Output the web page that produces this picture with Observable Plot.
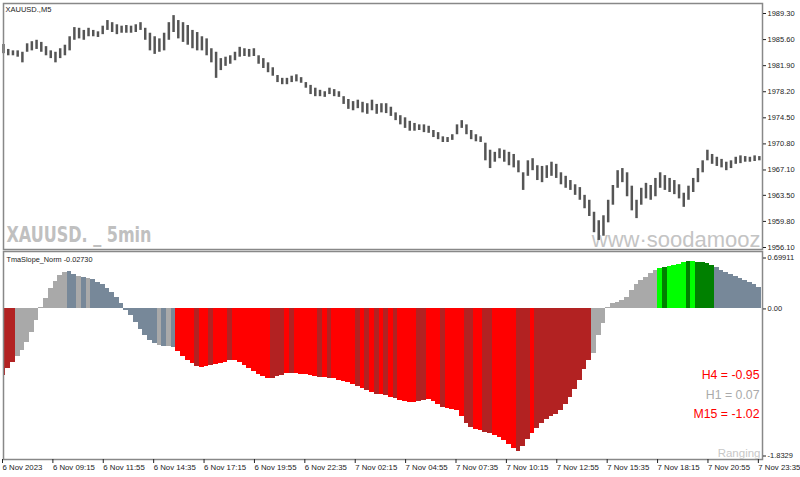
<!DOCTYPE html>
<html><head><meta charset="utf-8">
<script src="https://cdn.jsdelivr.net/npm/d3@7"></script>
<script src="https://cdn.jsdelivr.net/npm/@observablehq/plot@0.6"></script>
<style>
html,body{margin:0;padding:0;background:#fff;}
#chart{position:relative;width:800px;height:477px;overflow:hidden;background:#fff;}
#chart svg{position:absolute;left:0;display:block;overflow:visible;}
</style></head><body><div id="chart"></div>
<script>
// ---- data: XAUUSD M5, one sample per 3 bars ----
const priceHigh = [
1984.9,1984.2,1984.0,1984.0,1983.8,1985.0,1985.3,1985.5,1985.2,1984.6,
1984.0,1983.8,1984.3,1984.8,1986.0,1987.3,1987.2,1986.9,1987.2,1986.9,
1986.7,1987.5,1988.3,1988.0,1987.7,1987.5,1987.6,1987.5,1987.7,1988.0,
1987.2,1986.5,1986.0,1985.7,1986.5,1988.0,1989.0,1988.3,1988.0,1987.6,
1986.9,1986.6,1986.0,1985.7,1984.3,1983.8,1982.9,1983.1,1983.3,1983.8,
1984.5,1984.3,1984.2,1984.3,1983.3,1982.9,1982.3,1981.6,1980.5,1980.1,
1980.1,1980.4,1980.6,1980.2,1979.5,1979.1,1978.7,1978.4,1978.2,1978.7,
1978.5,1978.2,1977.5,1977.1,1976.8,1977.0,1976.7,1976.5,1977.0,1976.4,
1976.5,1976.5,1976.0,1975.2,1974.8,1974.5,1974.0,1973.7,1973.5,1973.5,
1973.3,1972.7,1972.4,1971.8,1971.7,1972.1,1973.5,1974.1,1973.5,1972.7,
1972.1,1971.8,1970.9,1969.9,1969.6,1970.1,1969.9,1969.6,1969.3,1968.4,
1966.7,1968.4,1968.7,1967.7,1967.6,1967.7,1968.2,1967.9,1966.7,1966.2,
1965.6,1965.0,1964.6,1963.5,1962.8,1961.1,1959.9,1960.6,1962.8,1964.9,
1967.0,1967.3,1966.7,1964.8,1962.8,1964.5,1965.2,1964.9,1965.9,1966.7,
1966.3,1965.9,1965.6,1965.0,1963.8,1964.8,1965.9,1967.3,1968.4,1969.9,
1969.3,1968.9,1968.6,1968.2,1968.4,1968.9,1969.1,1969.0,1968.9,1969.1,1969.0];
const priceLow = [
1983.6,1983.3,1983.3,1983.1,1982.3,1983.8,1984.0,1984.2,1983.8,1983.3,
1982.9,1982.3,1982.9,1983.3,1984.0,1985.5,1985.7,1985.5,1986.0,1986.0,
1985.9,1986.3,1986.9,1986.6,1986.3,1986.5,1986.5,1986.5,1986.6,1986.9,
1985.5,1984.0,1983.5,1983.8,1984.0,1985.5,1986.6,1985.7,1985.2,1984.8,
1984.3,1984.0,1984.0,1983.3,1982.3,1980.1,1981.2,1981.8,1982.1,1982.6,
1983.1,1983.2,1983.1,1983.2,1982.1,1981.5,1980.9,1980.4,1979.5,1979.2,
1979.2,1979.5,1979.6,1979.4,1978.7,1977.8,1977.5,1977.5,1977.4,1977.8,
1977.5,1977.4,1976.4,1975.7,1975.5,1975.8,1975.2,1975.0,1975.5,1975.0,
1975.2,1975.1,1974.7,1974.1,1973.5,1973.0,1972.6,1972.6,1972.7,1972.4,
1972.3,1971.7,1971.4,1971.0,1971.0,1971.3,1972.1,1973.0,1972.1,1971.4,
1971.1,1971.0,1968.4,1967.3,1968.2,1968.7,1968.2,1967.7,1967.4,1966.7,
1964.2,1966.2,1967.0,1965.6,1965.3,1965.9,1966.2,1965.9,1965.0,1964.5,
1964.2,1963.5,1962.8,1961.6,1960.5,1958.2,1957.1,1957.7,1959.6,1962.1,
1964.5,1965.3,1963.3,1961.3,1960.2,1962.1,1963.0,1962.8,1963.3,1964.5,
1964.2,1963.9,1963.6,1963.0,1961.8,1962.8,1963.9,1965.3,1966.7,1968.4,
1967.9,1967.6,1967.4,1967.0,1967.3,1967.9,1968.0,1968.2,1968.2,1968.3,1968.4];
const slope = [
-0.81,-0.73,-0.65,-0.58,-0.51,-0.41,-0.29,-0.14,0.02,0.13,
0.25,0.33,0.41,0.44,0.46,0.42,0.39,0.38,0.37,0.36,
0.32,0.30,0.25,0.20,0.14,0.07,-0.02,-0.08,-0.17,-0.25,
-0.32,-0.38,-0.42,-0.45,-0.46,-0.46,-0.47,-0.52,-0.58,-0.63,
-0.66,-0.70,-0.71,-0.70,-0.69,-0.68,-0.66,-0.65,-0.63,-0.63,
-0.65,-0.69,-0.73,-0.76,-0.80,-0.82,-0.85,-0.85,-0.82,-0.81,
-0.79,-0.79,-0.79,-0.80,-0.80,-0.81,-0.82,-0.84,-0.84,-0.85,
-0.85,-0.87,-0.88,-0.90,-0.92,-0.94,-0.97,-0.99,-1.02,-1.04,
-1.04,-1.05,-1.08,-1.09,-1.12,-1.13,-1.14,-1.14,-1.13,-1.12,
-1.10,-1.13,-1.16,-1.20,-1.21,-1.22,-1.24,-1.31,-1.40,-1.44,
-1.47,-1.48,-1.50,-1.52,-1.54,-1.57,-1.60,-1.65,-1.70,-1.74,
-1.67,-1.59,-1.52,-1.46,-1.40,-1.35,-1.31,-1.29,-1.24,-1.16,
-1.08,-0.98,-0.87,-0.74,-0.63,-0.54,-0.32,-0.18,0.02,0.07,
0.08,0.10,0.14,0.22,0.30,0.35,0.38,0.43,0.47,0.49,
0.50,0.52,0.53,0.54,0.56,0.58,0.58,0.56,0.56,0.55,
0.53,0.50,0.47,0.44,0.42,0.39,0.37,0.35,0.32,0.30,0.26];
// colour state runs: [state, number of samples]
const slopeStateRuns = [["F",3],["G",11],["S",2],["G",1],["S",1],["G",1],["S",14],["G",1],["S",1],["G",1],["S",1],
["R",4],["F",1],["R",2],["F",1],["R",3],["F",1],["R",8],["F",3],["R",1],["F",1],["R",5],["F",1],["R",1],["F",1],
["R",5],["F",1],["R",1],["F",1],["R",1],["F",1],["R",1],["F",1],["R",1],["F",1],["R",4],["F",2],["R",3],["F",1],
["R",4],["F",2],["R",2],["F",2],["R",5],["F",3],["R",1],["F",12],["G",14],["L",1],["D",1],["L",4],["D",1],["L",1],
["D",4],["S",10]];
const barsPerSample = 3;
const lastBar = 482;
const priceTicks = [1989.30,1985.60,1981.90,1978.20,1974.50,1970.80,1967.10,1963.50,1959.80,1956.10];
const timeTicks = [0,32,64,96,128,160,192,224,256,288,320,352,384,416,448,480];
const timeLabels = ["6 Nov 2023","6 Nov 09:15","6 Nov 11:55","6 Nov 14:35","6 Nov 17:15","6 Nov 19:55",
"6 Nov 22:35","7 Nov 02:15","7 Nov 04:55","7 Nov 07:35","7 Nov 10:15","7 Nov 12:55","7 Nov 15:35",
"7 Nov 18:15","7 Nov 20:55","7 Nov 23:35"];
const slopeMax = 0.69911, slopeMin = -1.8329;
const slopeTickLabels = ["0.69911","0.00","-1.8329"];
const slopeNow = -0.02730;
const tfNames = ["H4","H1","M15"];
const tfValues = [-0.95, 0.07, -1.02];
const symbolName = "XAUUSD.", periodName = "M5";

// ---- styles ----
const stateColor = {F:"#B22222", G:"#A9A9A9", S:"#778899", R:"#FF0000", L:"#00FF00", D:"#008000"};
const font = "'Liberation Sans', Arial, sans-serif";
const states = slopeStateRuns.flatMap(([s, n]) => Array(n).fill(s));
const samples = slope.map((v, i) => ({bar: i * barsPerSample, high: priceHigh[i], low: priceLow[i], v, state: states[i]}));

// price scale: 1989.30 at y=13, 1956.10 at y=247 inside a 3..249 pane
const pxPerUnit = (247 - 13) / (priceTicks[0] - priceTicks[priceTicks.length - 1]);
const yTop = priceTicks[0] + 10 / pxPerUnit, yBot = yTop - 246 / pxPerUnit;
const watermark = `${symbolName} _ 5min`;

const pricePlot = Plot.plot({
  width: 800, height: 250, marginTop: 3, marginBottom: 1, marginLeft: 3, marginRight: 38,
  x: {domain: [0, lastBar], axis: null},
  y: {domain: [yBot, yTop]},
  style: {fontFamily: font, fontSize: "7.5px", color: "#222", background: "transparent", overflow: "visible"},
  marks: [
    Plot.text([watermark], {text: d => d, frameAnchor: "bottom-left", textAnchor: "start", lineAnchor: "bottom",
      dx: 3, dy: -7.5, fontSize: 22, fontWeight: "bold", fontFamily: "'Liberation Sans Narrow','DejaVu Sans Condensed',sans-serif",
      fill: "#c0c0c0"}),
    Plot.text(["www\u00B7soodamooz"], {text: d => d, frameAnchor: "bottom-right", textAnchor: "end", lineAnchor: "bottom",
      dx: -2, dy: -3, fontSize: 22, fontFamily: font, fill: "#c4c4c4"}),
    Plot.ruleX(samples, {x: "bar", y1: "low", y2: "high", stroke: "#555", strokeWidth: 2.5}),
    Plot.frame({stroke: "#888", strokeWidth: 1.5}),
    Plot.axisY({anchor: "right", ticks: priceTicks, tickFormat: d => d.toFixed(2), tickSize: 3, tickPadding: 2,
      fontSize: 7.5, label: null}),
    Plot.text([`${symbolName},${periodName}`], {text: d => d, frameAnchor: "top-left", textAnchor: "start",
      lineAnchor: "middle", dx: 2, dy: 6.5, fontSize: 7.5, fill: "#222"})
  ]
});
// squeeze the bold watermark to the narrow width of the original
d3.select(pricePlot).selectAll("text").filter(function () { return this.textContent === watermark; })
  .attr("textLength", 145).attr("lengthAdjust", "spacingAndGlyphs");

const tfColor = v => (Math.abs(v) < 0.5 ? "#aaaaaa" : v < 0 ? "#ff0000" : "#00c000");
const slopeTicks = [slopeMax, 0, slopeMin];
const slopePlot = Plot.plot({
  width: 800, height: 227, marginTop: 1, marginBottom: 18, marginLeft: 3, marginRight: 38,
  x: {domain: [0, lastBar]},
  y: {domain: [slopeMin, slopeMax]},
  color: {type: "identity"},
  style: {fontFamily: font, fontSize: "7.5px", color: "#222", background: "transparent", overflow: "visible"},
  marks: [
    Plot.rect(samples, {x1: d => Math.max(0, d.bar - barsPerSample / 2), x2: d => Math.min(lastBar, d.bar + barsPerSample / 2),
      y1: 0, y2: "v", fill: d => stateColor[d.state], shapeRendering: "crispEdges"}),
    Plot.frame({stroke: "#888", strokeWidth: 1.5}),
    Plot.axisX({ticks: timeTicks, tickFormat: d => timeLabels[timeTicks.indexOf(d)], tickSize: 4, tickPadding: 1,
      textAnchor: "start", dx: -1, fontSize: 7.8, label: null}),
    Plot.axisY({anchor: "right", ticks: [slopeTicks[0]], tickFormat: () => slopeTickLabels[0], tickSize: 3, tickPadding: 2, dy: 6.5, fontSize: 7.5, label: null}),
    Plot.axisY({anchor: "right", ticks: [slopeTicks[1]], tickFormat: () => slopeTickLabels[1], tickSize: 3, tickPadding: 2, fontSize: 7.5, label: null}),
    Plot.axisY({anchor: "right", ticks: [slopeTicks[2]], tickFormat: () => slopeTickLabels[2], tickSize: 3, tickPadding: 2, dy: -3.5, fontSize: 7.5, label: null}),
    Plot.text([`TmaSlope_Norm ${slopeNow.toFixed(5)}`], {text: d => d, frameAnchor: "top-left", textAnchor: "start",
      lineAnchor: "middle", dx: 3, dy: 8, fontSize: 7.3, fill: "#222"}),
    ...tfNames.map((n, i) => Plot.text([`${n} = ${tfValues[i].toFixed(2)}`], {text: d => d, frameAnchor: "top-right",
      textAnchor: "end", lineAnchor: "middle", dx: -3, dy: [124, 143.5, 163][i], fontSize: 12.3, fontFamily: font,
      fill: tfColor(tfValues[i])})),
    Plot.text(["Ranging"], {text: d => d, frameAnchor: "bottom-right", textAnchor: "end", lineAnchor: "middle",
      dx: -2, dy: -6.5, fontSize: 11.5, fontFamily: font, fill: "#c8c8c8"})
  ]
});

const chart = document.getElementById("chart");
pricePlot.style.top = "0px";
slopePlot.style.top = "250px";
chart.appendChild(pricePlot);
chart.appendChild(slopePlot);
</script></body></html>
